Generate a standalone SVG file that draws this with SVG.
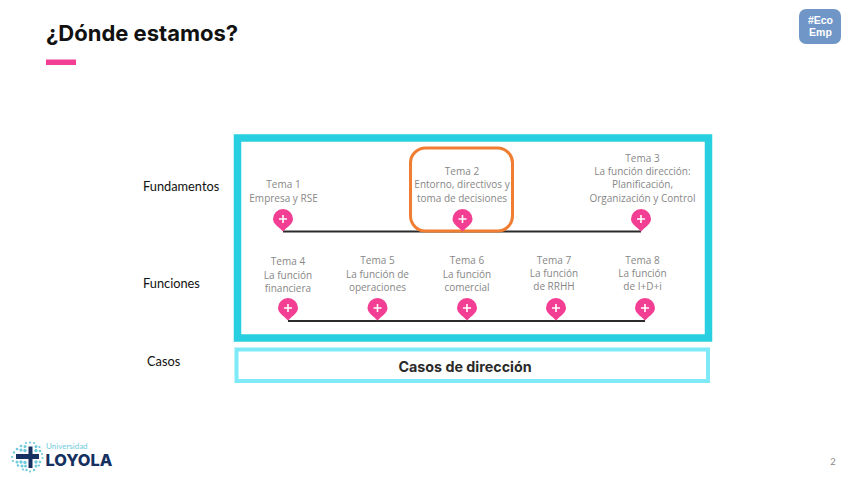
<svg xmlns="http://www.w3.org/2000/svg" width="848" height="477" viewBox="0 0 848 477">
<style>
.t{font-family:"Open Sans","Liberation Sans",sans-serif;font-size:10px;fill:#878787;text-anchor:middle}
.s{font-family:Lato,"Liberation Sans",sans-serif;font-size:12.8px;fill:#111}
.pin{fill:#f23f93}
.plus{stroke:#fff;stroke-width:1.6;fill:none}
.conn{stroke:#2b2b2b;stroke-width:1.8;fill:none}
.d{fill:#6fcbdc}
.n{fill:#16305f}
</style>
<defs>
<g id="p"><path class="pin" d="M-10 0A10 10 0 1 1 10 0C10 5 4 8 0 12.500C-4 8-10 5-10 0Z"/><path class="plus" d="M-4 0H4M0-4V4"/></g>
</defs>
<rect width="848" height="477" fill="#fff"/>
<g id="title">
<text x="46" y="41" font-family="Inter,'Liberation Sans',sans-serif" font-weight="700" font-size="22px" fill="#111">¿Dónde estamos?</text>
<rect x="46" y="59.500" width="30" height="5.500" fill="#f23f93"/>
</g>
<g id="badge">
<rect x="799" y="9" width="42" height="35" rx="7" fill="#6f96c6"/>
<text x="820.500" y="23.500" font-family="'Liberation Sans',sans-serif" font-weight="700" font-size="10.500px" fill="#fff" text-anchor="middle">#Eco</text>
<text x="820.500" y="35.500" font-family="'Liberation Sans',sans-serif" font-weight="700" font-size="10.500px" fill="#fff" text-anchor="middle">Emp</text>
</g>
<g id="frame"><rect x="237.500" y="138" width="471" height="200" fill="#fff" stroke="#27cfe0" stroke-width="7.500"/></g>
<g id="casos">
<rect x="236.500" y="349.500" width="471.500" height="31.500" fill="#fff" stroke="#7feaf7" stroke-width="4"/>
<text x="465" y="372" font-family="Inter,'Liberation Sans',sans-serif" font-weight="700" font-size="14.300px" fill="#2a2a2a" text-anchor="middle">Casos de dirección</text>
</g>
<g id="row-labels">
<text class="s" x="143" y="191">Fundamentos</text>
<text class="s" x="143" y="288">Funciones</text>
<text class="s" x="147" y="366">Casos</text>
</g>
<g id="connectors">
<path class="conn" d="M283 231.500H641"/>
<path class="conn" d="M288 321H645"/>
</g>
<g id="tema2-highlight"><rect x="410.500" y="148" width="102" height="83" rx="15" fill="none" stroke="#ef7d32" stroke-width="3"/></g>
<g id="tema1"><text class="t" x="283.500" y="188">Tema 1</text><text class="t" x="283.500" y="201.500">Empresa y RSE</text><use href="#p" x="283" y="219"/></g>
<g id="tema2"><text class="t" x="462" y="175">Tema 2</text><text class="t" x="462" y="188">Entorno, directivos y</text><text class="t" x="462" y="201.500">toma de decisiones</text><use href="#p" x="462.500" y="219"/></g>
<g id="tema3"><text class="t" x="642.500" y="162">Tema 3</text><text class="t" x="642.500" y="175">La función dirección:</text><text class="t" x="642.500" y="188">Planificación,</text><text class="t" x="642.500" y="201.500">Organización y Control</text><use href="#p" x="641" y="219"/></g>
<g id="tema4"><text class="t" x="288" y="265">Tema 4</text><text class="t" x="288" y="278.500">La función</text><text class="t" x="288" y="291.500">financiera</text><use href="#p" x="288" y="308"/></g>
<g id="tema5"><text class="t" x="377.500" y="264">Tema 5</text><text class="t" x="377.500" y="277.500">La función de</text><text class="t" x="377.500" y="290.500">operaciones</text><use href="#p" x="377.500" y="308"/></g>
<g id="tema6"><text class="t" x="467" y="264">Tema 6</text><text class="t" x="467" y="277.500">La función</text><text class="t" x="467" y="290.500">comercial</text><use href="#p" x="467" y="308"/></g>
<g id="tema7"><text class="t" x="554" y="263.500">Tema 7</text><text class="t" x="554" y="276.500">La función</text><text class="t" x="554" y="290">de RRHH</text><use href="#p" x="556" y="308"/></g>
<g id="tema8"><text class="t" x="642.500" y="263.500">Tema 8</text><text class="t" x="642.500" y="276.500">La función</text><text class="t" x="642.500" y="290">de I+D+i</text><use href="#p" x="645" y="308"/></g>
<g id="logo">
<g class="d">
<circle cx="26" cy="443" r="1.100"/><circle cx="30" cy="442.500" r="1.100"/><circle cx="34" cy="443" r="1.100"/>
<circle cx="21" cy="446" r="1.300"/><circle cx="25" cy="446.500" r="1.500"/><circle cx="36" cy="446.500" r="1.500"/><circle cx="39.500" cy="447" r="1.100"/>
<circle cx="17" cy="449" r="1.300"/><circle cx="21" cy="450" r="1.600"/><circle cx="25" cy="450.500" r="1.700"/><circle cx="36" cy="450.500" r="1.700"/><circle cx="40" cy="451" r="1.300"/>
<circle cx="14" cy="452.500" r="1.200"/><circle cx="42" cy="454" r="1.100"/>
<circle cx="12" cy="457" r="1.100"/><circle cx="42.500" cy="458" r="1"/>
<circle cx="13" cy="461" r="1.100"/><circle cx="17" cy="462" r="1.500"/><circle cx="21" cy="462" r="1.700"/><circle cx="25" cy="462.500" r="1.700"/><circle cx="36" cy="462" r="1.700"/><circle cx="40" cy="462" r="1.300"/>
<circle cx="18" cy="465.500" r="1.200"/><circle cx="22" cy="466" r="1.500"/><circle cx="25.500" cy="466" r="1.500"/><circle cx="36" cy="466" r="1.500"/><circle cx="39" cy="465.500" r="1.100"/>
<circle cx="23" cy="469.500" r="1.100"/><circle cx="26.500" cy="470" r="1.200"/><circle cx="30" cy="471.500" r="1.100"/><circle cx="34" cy="470" r="1.200"/>
</g>
<path class="n" d="M28.500 446.500h4v7.500h6.500v5h-6.500v9h-4v-9h-12.500v-5h12.500z"/>
<text x="46" y="448.500" font-family="Lato,'Liberation Sans',sans-serif" font-size="8px" fill="#6fcbdc">Universidad</text>
<text x="45.500" y="466" font-family="Inter,'Liberation Sans',sans-serif" font-weight="800" font-size="16.400px" fill="#16305f">LOYOLA</text>
</g>
<text id="page" x="833" y="465" font-family="Lato,'Liberation Sans',sans-serif" font-size="9.500px" fill="#8a8a8a" text-anchor="middle">2</text>
</svg>
